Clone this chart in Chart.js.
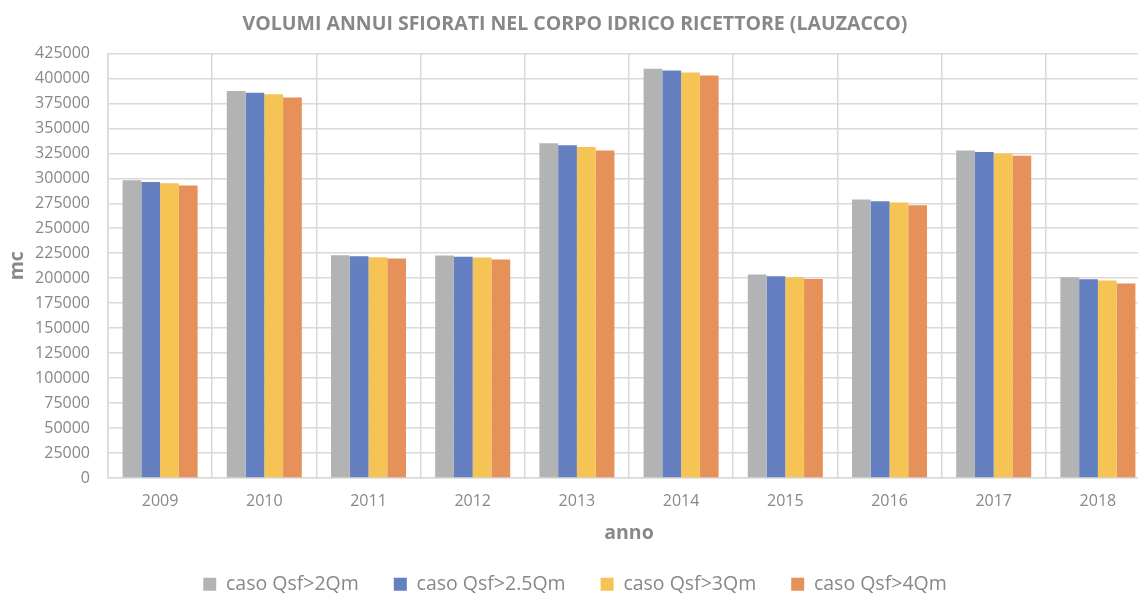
<!DOCTYPE html>
<html>
<head>
<meta charset="utf-8">
<script src="https://cdn.jsdelivr.net/npm/chart.js@4.4.1/dist/chart.umd.min.js"></script>
<style>
  html, body { margin: 0; padding: 0; background: #fff; overflow: hidden; }
  #wrap { position: relative; width: 1150px; height: 604px; }
</style>
</head>
<body>
<div id="wrap"><canvas id="chart"></canvas></div>
<script>
// Annual overflow volumes (mc) per year and per threshold case
const years = ['2009', '2010', '2011', '2012', '2013', '2014', '2015', '2016', '2017', '2018'];
const seriesNames = ['caso Qsf>2Qm', 'caso Qsf>2.5Qm', 'caso Qsf>3Qm', 'caso Qsf>4Qm'];
const qsf2 = [298000, 387300, 222900, 222600, 335000, 409700, 203600, 278800, 327900, 201000];
const qsf25 = [296400, 385600, 221900, 221500, 333000, 408000, 202000, 277100, 326200, 199000];
const qsf3 = [295000, 384000, 220900, 220700, 331300, 406000, 201000, 275700, 324900, 197600];
const qsf4 = [292700, 380900, 219600, 218700, 327900, 403000, 199300, 273000, 322500, 194800];
const colors = ['#b2b3b5', '#6480c1', '#f6c455', '#e6905a'];

const textGray = '#888888';
const gridGray = '#d9d9d9';
const family = "'Open Sans', sans-serif";

const datasets = [qsf2, qsf25, qsf3, qsf4].map((values, i) => ({
    label: seriesNames[i],
    data: values,
    backgroundColor: colors[i],
    borderWidth: 0,
    barPercentage: 1,
    categoryPercentage: 0.72
}));

new Chart(document.getElementById('chart').getContext('2d'), {
    type: 'bar',
    data: { labels: years, datasets: datasets },
    options: {
        responsive: true,
        maintainAspectRatio: false,
        animation: false,
        layout: { padding: 0 },
        plugins: {
            title: {
                display: true,
                text: 'VOLUMI ANNUI SFIORATI NEL CORPO IDRICO RICETTORE (LAUZACCO)',
                color: textGray,
                font: { family: family, size: 19.5, weight: 'bold' },
                padding: { top: 13, bottom: 17 }
            },
            legend: {
                position: 'bottom',
                labels: {
                    color: textGray,
                    font: { family: family, size: 19.5 },
                    boxWidth: 13,
                    boxHeight: 13,
                    padding: 35
                }
            },
            tooltip: { enabled: false }
        },
        scales: {
            x: {
                grid: { color: gridGray, lineWidth: 1.5, drawTicks: false, offset: true },
                border: { color: gridGray, width: 1.5 },
                ticks: { color: textGray, font: { family: family, size: 16 }, padding: 14 },
                title: {
                    display: true,
                    text: 'anno',
                    color: textGray,
                    font: { family: family, size: 19.5, weight: 'bold', lineHeight: 1 },
                    padding: { top: 0, bottom: -4 }
                },
                afterFit: scale => { scale.height = 61.5; }
            },
            y: {
                min: 0,
                max: 425000,
                grid: { color: gridGray, lineWidth: 1.5, drawTicks: false },
                border: { color: gridGray, width: 1.5 },
                ticks: {
                    stepSize: 25000,
                    color: textGray,
                    font: { family: family, size: 16 },
                    padding: 18,
                    callback: value => String(value)
                },
                title: {
                    display: true,
                    text: 'mc',
                    color: textGray,
                    font: { family: family, size: 19.5, weight: 'bold' },
                    padding: { top: 6, bottom: 0 }
                },
                afterFit: scale => { scale.width = 108; }
            }
        }
    }
});
</script>
</body>
</html>
